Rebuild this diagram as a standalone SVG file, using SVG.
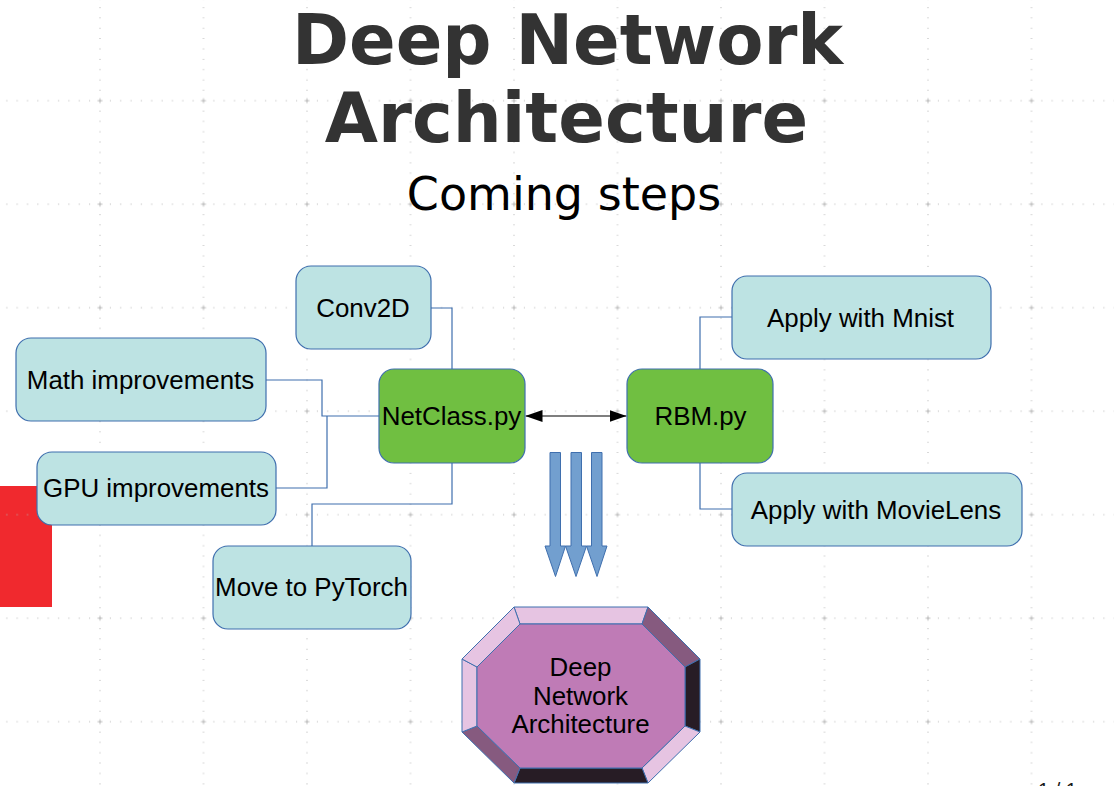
<svg xmlns="http://www.w3.org/2000/svg" width="1114" height="786" viewBox="0 0 1114 786">
<defs>
<style>
.box{fill:#bde3e3;stroke:#3f6fae;stroke-width:1.2}
.grn{fill:#70bf41;stroke:#3f6fae;stroke-width:1.2}
.lbl{font-family:"Liberation Sans",Arial,sans-serif;font-size:25.9px;fill:#000;text-anchor:middle}
.con{fill:none;stroke:#3f6fae;stroke-width:1.2}
.fat{fill:#729fcf;stroke:#3f6fae;stroke-width:1}
.bev{stroke:#3f6fae;stroke-width:1;stroke-linejoin:round}
.lt{fill:#e6c4e2}.md{fill:#865a7f}.dk{fill:#271c25}
</style>
<pattern id="grid" patternUnits="userSpaceOnUse" x="-55.25" y="-54.55" width="103.5" height="103.5">
<line x1="0" y1="51.75" x2="103.5" y2="51.75" stroke="#b4b4b4" stroke-width="1" stroke-dasharray="1 9.35" stroke-dashoffset="0.5"/>
<line x1="51.75" y1="0" x2="51.75" y2="103.5" stroke="#b4b4b4" stroke-width="1" stroke-dasharray="1 9.35" stroke-dashoffset="0.5"/>
<path d="M49.25 51.75h5M51.75 49.25v5" stroke="#bdbdbd" stroke-width="1"/>
</pattern>
<marker id="ah" viewBox="0 0 17 12" refX="17" refY="6" markerWidth="17" markerHeight="12" markerUnits="userSpaceOnUse" orient="auto-start-reverse">
<path d="M0 0L17 6L0 12z" fill="#000"/>
</marker>
</defs>
<rect width="1114" height="786" fill="#fff"/>
<rect x="0" y="486" width="52" height="121" fill="#f0292e"/>
<rect width="1114" height="786" fill="url(#grid)"/>

<g id="title">
<text x="567.5" y="64" font-family="DejaVu Sans,sans-serif" font-weight="bold" font-size="68.8" fill="#333" text-anchor="middle">Deep Network</text>
<text x="566.5" y="142" font-family="DejaVu Sans,sans-serif" font-weight="bold" font-size="68.8" fill="#333" text-anchor="middle">Architecture</text>
<text x="564" y="210" font-family="DejaVu Sans,sans-serif" font-size="46" fill="#000" text-anchor="middle">Coming steps</text>
</g>

<g id="connectors">
<path class="con" d="M431 308H452V369"/>
<path class="con" d="M266 380H322V416H379"/>
<path class="con" d="M276 488H327V416"/>
<path class="con" d="M452 463V504H312V546"/>
<path class="con" d="M700 369V317H732"/>
<path class="con" d="M700 463V509H732"/>
<line x1="525.5" y1="416" x2="626.5" y2="416" stroke="#000" stroke-width="1.2" marker-start="url(#ah)" marker-end="url(#ah)"/>
</g>

<g id="conv2d"><rect class="box" x="296" y="266" width="135" height="83" rx="15"/><text class="lbl" x="363" y="316.5">Conv2D</text></g>
<g id="math"><rect class="box" x="16" y="338" width="250" height="83" rx="15"/><text class="lbl" x="140.5" y="389">Math improvements</text></g>
<g id="gpu"><rect class="box" x="37" y="452" width="239" height="73" rx="15"/><text class="lbl" x="156" y="497">GPU improvements</text></g>
<g id="pytorch"><rect class="box" x="213" y="546" width="198" height="83" rx="15"/><text class="lbl" x="311.5" y="596">Move to PyTorch</text></g>
<g id="netclass"><rect class="grn" x="379" y="369" width="146" height="94" rx="15"/><text class="lbl" x="451.5" y="425">NetClass.py</text></g>
<g id="rbm"><rect class="grn" x="627" y="369" width="146" height="94" rx="15"/><text class="lbl" x="700.5" y="425">RBM.py</text></g>
<g id="mnist"><rect class="box" x="732" y="276" width="259" height="83" rx="15"/><text class="lbl" x="860.5" y="326.5">Apply with Mnist</text></g>
<g id="movielens"><rect class="box" x="732" y="473" width="290" height="73" rx="15"/><text class="lbl" x="876" y="518.5">Apply with MovieLens</text></g>

<g id="fat-arrows">
<path class="fat" d="M550 452.5H560.5V546H565.5L555.5 576.5L545 546H550Z"/>
<path class="fat" d="M571 452.5H581.5V546H586.5L576 576.5L565.5 546H571Z"/>
<path class="fat" d="M591.5 452.5H602V546H607L597 576.5L586.5 546H591.5Z"/>
</g>

<g id="deep-network-architecture">
<polygon class="bev lt" points="514,607 648,607 642,624 520,624"/>
<polygon class="bev md" points="648,607 700,659 685,667 642,624"/>
<polygon class="bev dk" points="700,659 700,732 685,726 685,667"/>
<polygon class="bev lt" points="700,732 648,783 642,768 685,726"/>
<polygon class="bev dk" points="648,783 514,783 520,768 642,768"/>
<polygon class="bev md" points="514,783 462,732 477,726 520,768"/>
<polygon class="bev lt" points="462,732 462,659 477,667 477,726"/>
<polygon class="bev lt" points="462,659 514,607 520,624 477,667"/>
<polygon class="bev" fill="#bf7bb6" points="520,624 642,624 685,667 685,726 642,768 520,768 477,726 477,667"/>
<text class="lbl" x="580.5" y="675.5" fill="#1a1a1a">Deep</text>
<text class="lbl" x="580.5" y="704.5" fill="#1a1a1a">Network</text>
<text class="lbl" x="580.5" y="733" fill="#1a1a1a">Architecture</text>
</g>

<text x="1038" y="797" font-family="Liberation Sans,Arial,sans-serif" font-size="20" fill="#1a1a1a">1 / 1</text>
</svg>
